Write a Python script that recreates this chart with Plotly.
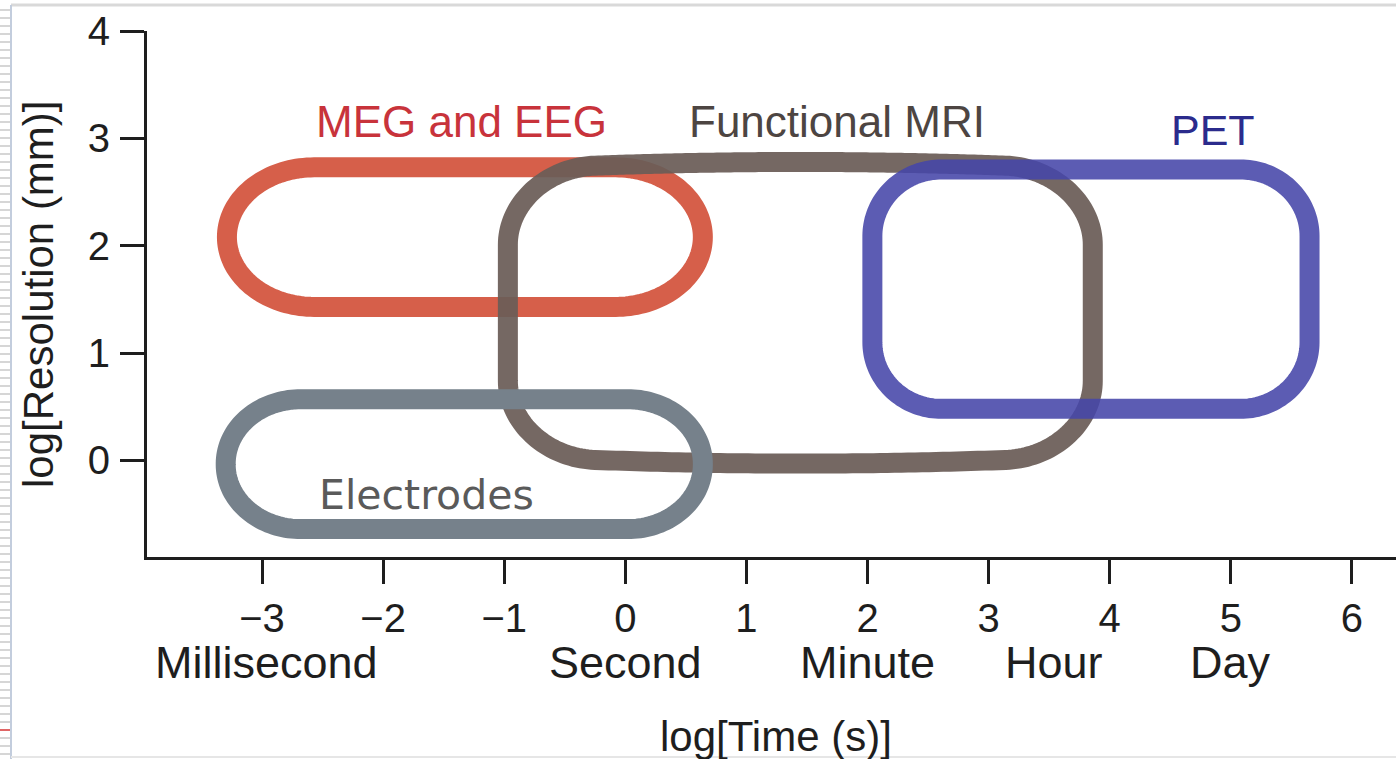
import numpy as np
import plotly.graph_objects as go

# ---------------- data ----------------
instruments = ["MEG and EEG", "Functional MRI", "PET", "Electrodes"]
time_min = [-3.29, -0.97, 2.04, -3.30]    # log10 seconds
time_max = [0.64, 3.86, 5.65, 0.64]
res_min = [1.43, 0.04, 0.48, -0.64]       # log10 mm
res_max = [2.73, 2.71, 2.71, 0.57]

label_x = [-1.35, 1.75, 4.85, -1.64]
label_y = [3.16, 3.16, 3.08, -0.32]

x_ticks = [-3, -2, -1, 0, 1, 2, 3, 4, 5, 6]
y_ticks = [0, 1, 2, 3, 4]
unit_names = ["Millisecond", "Second", "Minute", "Hour", "Day"]
unit_pos = [-2.96, 0.0, 2.0, 3.54, 5.0]

# ---------------- styles ----------------
line_colors = ["#d65f4a", "rgba(106,92,87,0.93)", "rgba(70,70,168,0.88)", "#76818b"]
label_colors = ["#c8333b", "#4d4542", "#2b2b8c", "#5a5a5a"]
label_fonts = ["Liberation Sans", "Liberation Sans", "Liberation Sans", "DejaVu Sans"]
label_sizes = [44, 44, 43, 41]
corner_rx = [0.72, 0.72, 0.57, 0.62]
corner_ry = [0.65, 0.70, 0.62, 0.60]
bulge = [0.0, 0.07, 0.0, 0.0]


def rounded_outline(x0, x1, y0, y1, rx, ry, b, n=40, m=60):
    cx, cy = (x0 + x1) / 2, (y0 + y1) / 2
    corners = [
        (x1 - rx, y1 - ry, np.pi / 2, 0),
        (x1 - rx, y0 + ry, 0, -np.pi / 2),
        (x0 + rx, y0 + ry, -np.pi / 2, -np.pi),
        (x0 + rx, y1 - ry, np.pi, np.pi / 2),
    ]
    xs, ys = list(np.linspace(cx, x1 - rx, m)), [y1] * m
    for k, (ccx, ccy, a0, a1) in enumerate(corners):
        t = np.linspace(a0, a1, n)
        xs.extend(ccx + rx * np.cos(t))
        ys.extend(ccy + ry * np.sin(t))
        if k < 3:
            nxt = corners[k + 1]
            ex, ey = ccx + rx * np.cos(a1), ccy + ry * np.sin(a1)
            sx, sy = nxt[0] + rx * np.cos(nxt[2]), nxt[1] + ry * np.sin(nxt[2])
            xs.extend(np.linspace(ex, sx, m))
            ys.extend(np.linspace(ey, sy, m))
    xs.extend(np.linspace(x0 + rx, cx, m))
    ys.extend([y1] * m)
    xs = np.array(xs)
    ys = np.array(ys)
    hw = (x1 - x0) / 2
    ys = ys + np.sign(ys - cy) * b * np.clip(1 - ((xs - cx) / hw) ** 2, 0, None)
    return xs, ys


fig = go.Figure()
for i, name in enumerate(instruments):
    xs, ys = rounded_outline(time_min[i], time_max[i], res_min[i], res_max[i],
                             corner_rx[i], corner_ry[i], bulge[i])
    fig.add_trace(go.Scatter(x=xs, y=ys, mode="lines", name=name,
                             line=dict(color=line_colors[i], width=20, simplify=False),
                             hoverinfo="skip", showlegend=False))
    fig.add_annotation(x=label_x[i], y=label_y[i], xref="x", yref="y", text=name,
                       showarrow=False, xanchor="center", yanchor="middle",
                       font=dict(family=label_fonts[i], size=label_sizes[i], color=label_colors[i]))

for nm, p in zip(unit_names, unit_pos):
    fig.add_annotation(x=p, y=-0.2, xref="x", yref="paper", text=nm, showarrow=False,
                       xanchor="center", yanchor="middle",
                       font=dict(family="Liberation Sans", size=45, color="#1e1e1e"))

fig.add_annotation(x=1.24, y=-0.342, xref="x", yref="paper", text="log[Time (s)]",
                   showarrow=False, xanchor="center", yanchor="middle",
                   font=dict(family="Liberation Sans", size=42, color="#1e1e1e"))
fig.add_annotation(x=-0.0873, y=0.50, xref="paper", yref="paper", text="log[Resolution (mm)]",
                   showarrow=False, textangle=-90, xanchor="center", yanchor="middle",
                   font=dict(family="Liberation Sans", size=42, color="#1e1e1e"))

# slide frame decorations (ref pixels -> paper coordinates)
PL, PT, PW, PH = 147, 31, 1249, 526
def px(x): return (x - PL) / PW
def py(y): return (PT + PH - y) / PH

shapes = [
    dict(type="line", xref="paper", yref="paper", x0=px(11), x1=1.0, y0=py(5), y1=py(5),
         line=dict(color="#d9d9d9", width=3)),
    dict(type="line", xref="paper", yref="paper", x0=px(11), x1=px(11), y0=py(759), y1=py(5),
         line=dict(color="#c3cddd", width=2)),
    dict(type="line", xref="paper", yref="paper", x0=px(11), x1=1.0, y0=py(757), y1=py(757),
         line=dict(color="#e6e6e6", width=2)),
]
for k in range(95):
    yy = 10 + k * 8
    if yy > 755:
        break
    shapes.append(dict(type="line", xref="paper", yref="paper", x0=px(0), x1=px(10),
                       y0=py(yy), y1=py(yy), line=dict(color="#d6d6d6", width=2)))
shapes.append(dict(type="line", xref="paper", yref="paper", x0=px(0), x1=px(10),
                   y0=py(730), y1=py(730), line=dict(color="#e06666", width=2)))

fig.update_layout(
    width=1396, height=759,
    margin=dict(l=PL, r=0, t=PT, b=759 - PT - PH),
    paper_bgcolor="white", plot_bgcolor="white",
    shapes=shapes,
    xaxis=dict(range=[-3.95, 6.364], tickvals=x_ticks, ticks="outside", ticklen=24,
               tickwidth=3, tickcolor="#1e1e1e", showline=True, linewidth=3,
               linecolor="#1e1e1e", showgrid=False, zeroline=False,
               tickfont=dict(family="Liberation Sans", size=40, color="#1e1e1e"),
               ticklabelstandoff=0),
    yaxis=dict(range=[-0.9, 4.0], tickvals=y_ticks, ticks="outside", ticklen=24,
               tickwidth=3, tickcolor="#1e1e1e", showline=True, linewidth=3,
               linecolor="#1e1e1e", showgrid=False, zeroline=False,
               tickfont=dict(family="Liberation Sans", size=40, color="#1e1e1e"),
               ticklabelstandoff=2),
)

fig.write_html("out.html", config={"displayModeBar": False},
               post_script="document.body.style.margin='0px';document.body.style.overflow='hidden';")
